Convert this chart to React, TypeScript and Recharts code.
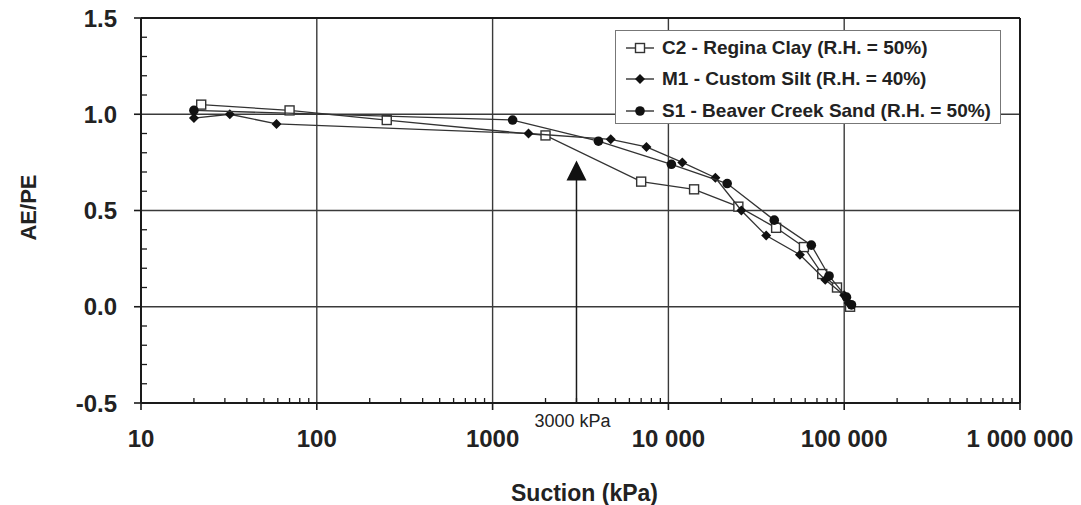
import React from 'react';
import {
  ComposedChart,
  Scatter,
  XAxis,
  YAxis,
  ReferenceLine,
  ReferenceDot,
  Legend,
  Label,
} from 'recharts';

// ---------- axis definitions ----------
const xMajorTicks = [10, 100, 1000, 10000, 100000, 1000000];
const xMajorLabels = ['10', '100', '1000', '10 000', '100 000', '1 000 000'];
const xMinorMultipliers = [2, 3, 4, 5, 6, 7, 8, 9];
const xGridLines = [100, 1000, 10000, 100000];

const yMajorTicks = [-0.5, 0, 0.5, 1.0, 1.5];
const yMajorLabels = ['-0.5', '0.0', '0.5', '1.0', '1.5'];
const yMinorTicks = [-0.4, -0.3, -0.2, -0.1, 0.1, 0.2, 0.3, 0.4, 0.6, 0.7, 0.8, 0.9, 1.1, 1.2, 1.3, 1.4];
const yGridLines = [0, 0.5, 1.0];

const xTitle = 'Suction (kPa)';
const yTitle = 'AE/PE';

// annotation arrow
const markerSuction = 3000;
const markerLabel = '3000 kPa';
const arrowTip = 0.76;
const arrowBase = 0.66;

// ---------- series data ----------
const c2Suction = [22, 70, 250, 2000, 7000, 14000, 25000, 41000, 59000, 75000, 91000, 108000];
const c2Ratio = [1.05, 1.02, 0.97, 0.89, 0.65, 0.61, 0.52, 0.41, 0.31, 0.17, 0.1, 0.0];

const m1Suction = [20, 32, 59, 1600, 4700, 7500, 12000, 18500, 26000, 36000, 56000, 78000, 100000, 106000];
const m1Ratio = [0.98, 1.0, 0.95, 0.9, 0.87, 0.83, 0.75, 0.67, 0.5, 0.37, 0.27, 0.14, 0.06, 0.02];

const s1Suction = [20, 1300, 4000, 10400, 21600, 40000, 65000, 82000, 103000, 110000];
const s1Ratio = [1.02, 0.97, 0.86, 0.74, 0.64, 0.45, 0.32, 0.16, 0.05, 0.01];

const seriesNames = [
  'C2 - Regina Clay (R.H. = 50%)',
  'M1 - Custom Silt (R.H. = 40%)',
  'S1 - Beaver Creek Sand (R.H. = 50%)',
];

// ---------- styles ----------
const FONT = '"Liberation Sans", Arial, Helvetica, sans-serif';
const AXIS = '#1a1a1a';
const GRID = '#3a3a3a';
const SERIES = '#333333';
const TEXT = '#222222';

const toPoints = (xs: number[], ys: number[]) => xs.map((x, i) => ({ x, y: ys[i] }));
const c2Data = toPoints(c2Suction, c2Ratio);
const m1Data = toPoints(m1Suction, m1Ratio);
const s1Data = toPoints(s1Suction, s1Ratio);

const xAllTicks: number[] = [];
xMajorTicks.forEach((d, i) => {
  xAllTicks.push(d);
  if (i < xMajorTicks.length - 1) xMinorMultipliers.forEach((m) => xAllTicks.push(d * m));
});
const yAllTicks = [...yMajorTicks, ...yMinorTicks].sort((a, b) => a - b);

// ---------- markers ----------
const SquareMark = ({ cx, cy }: { cx: number; cy: number }) => (
  <rect x={cx - 4.5} y={cy - 4.5} width={9} height={9} fill="#fff" stroke={SERIES} strokeWidth={1.4} />
);
const DiamondMark = ({ cx, cy }: { cx: number; cy: number }) => (
  <polygon points={`${cx},${cy - 5} ${cx + 5},${cy} ${cx},${cy + 5} ${cx - 5},${cy}`} fill="#111" />
);
const CircleMark = ({ cx, cy }: { cx: number; cy: number }) => (
  <circle cx={cx} cy={cy} r={4.8} fill="#111" />
);
const markers = [SquareMark, DiamondMark, CircleMark];

// ---------- ticks ----------
const XTick = (props: any) => {
  const { x, y, payload } = props;
  const v = payload.value;
  const idx = xMajorTicks.indexOf(v);
  if (idx >= 0) {
    return (
      <g>
        <line x1={x} x2={x} y1={y} y2={y + 7} stroke={AXIS} strokeWidth={1.6} />
        <text
          x={x}
          y={y + 35}
          textAnchor="middle"
          dominantBaseline="central"
          fontSize={24}
          fontWeight="bold"
          fontFamily={FONT}
          fill={TEXT}
        >
          {xMajorLabels[idx]}
        </text>
      </g>
    );
  }
  return (
    <g>
      <line x1={x} x2={x} y1={y} y2={y - 5} stroke={AXIS} strokeWidth={1.3} />
      {v === markerSuction && (
        <text
          x={x - 4}
          y={y + 18}
          textAnchor="middle"
          dominantBaseline="central"
          fontSize={18}
          fontFamily={FONT}
          fill={TEXT}
        >
          {markerLabel}
        </text>
      )}
    </g>
  );
};

const YTick = (props: any) => {
  const { x, y, payload } = props;
  const v = payload.value;
  const idx = yMajorTicks.findIndex((t) => Math.abs(t - v) < 1e-9);
  if (idx >= 0) {
    return (
      <g>
        <line x1={x - 7} x2={x} y1={y} y2={y} stroke={AXIS} strokeWidth={1.6} />
        <text
          x={x - 24}
          y={y}
          textAnchor="end"
          dominantBaseline="central"
          fontSize={24}
          fontWeight="bold"
          fontFamily={FONT}
          fill={TEXT}
        >
          {yMajorLabels[idx]}
        </text>
      </g>
    );
  }
  return <line x1={x} x2={x + 6} y1={y} y2={y} stroke={AXIS} strokeWidth={1.3} />;
};

// ---------- titles ----------
const XTitle = (props: any) => {
  const vb = props.viewBox || {};
  const cx = vb.x + vb.width / 2 + 4;
  return (
    <text
      x={cx}
      y={vb.y + 90}
      textAnchor="middle"
      dominantBaseline="central"
      fontSize={23}
      fontWeight="bold"
      fontFamily={FONT}
      fill={TEXT}
    >
      {xTitle}
    </text>
  );
};

const YTitle = (props: any) => {
  const vb = props.viewBox || {};
  const cx = vb.x + vb.width - 113;
  const cy = vb.y + vb.height / 2 - 3;
  return (
    <text
      x={cx}
      y={cy}
      transform={`rotate(-90 ${cx} ${cy})`}
      textAnchor="middle"
      dominantBaseline="central"
      fontSize={22}
      fontWeight="bold"
      fontFamily={FONT}
      fill={TEXT}
    >
      {yTitle}
    </text>
  );
};

// ---------- legend ----------
const LegendBox = () => (
  <div
    style={{
      border: '1.5px solid #777',
      background: '#fff',
      width: 386,
      height: 94,
      boxSizing: 'border-box',
      paddingTop: 1,
      fontFamily: FONT,
    }}
  >
    {seriesNames.map((name, i) => {
      const Mark = markers[i];
      return (
        <div key={name} style={{ display: 'flex', alignItems: 'center', height: 31.5 }}>
          <svg width={46} height={20} style={{ flex: 'none' }}>
            <line x1={10} x2={38} y1={10} y2={10} stroke={SERIES} strokeWidth={1.4} />
            <Mark cx={24} cy={10} />
          </svg>
          <span style={{ fontSize: 19, fontWeight: 'bold', color: TEXT, whiteSpace: 'nowrap' }}>{name}</span>
        </div>
      );
    })}
  </div>
);

export default function App() {
  return (
    <div style={{ position: 'absolute', left: 0, top: 0, background: '#fff' }}>
      <ComposedChart width={1081} height={505} margin={{ top: 18, right: 61, bottom: 62, left: 81 }}>
        <XAxis
          type="number"
          dataKey="x"
          scale="log"
          domain={[10, 1000000]}
          ticks={xAllTicks}
          interval={0}
          allowDataOverflow
          height={40}
          tickSize={0}
          tickMargin={0}
          tickLine={false}
          tick={XTick}
          axisLine={{ stroke: AXIS, strokeWidth: 2 }}
        >
          <Label content={XTitle} />
        </XAxis>
        <YAxis
          type="number"
          dataKey="y"
          domain={[-0.5, 1.5]}
          ticks={yAllTicks}
          interval={0}
          allowDataOverflow
          width={60}
          tickSize={0}
          tickMargin={0}
          tickLine={false}
          tick={YTick}
          axisLine={{ stroke: AXIS, strokeWidth: 2 }}
        >
          <Label content={YTitle} />
        </YAxis>

        {xGridLines.map((v) => (
          <ReferenceLine key={'gx' + v} x={v} stroke={GRID} strokeWidth={1.4} />
        ))}
        {yGridLines.map((v) => (
          <ReferenceLine key={'gy' + v} y={v} stroke={GRID} strokeWidth={1.4} />
        ))}
        <ReferenceLine x={1000000} stroke={AXIS} strokeWidth={2} />
        <ReferenceLine y={1.5} stroke={AXIS} strokeWidth={2} />

        <ReferenceLine
          segment={[
            { x: markerSuction, y: -0.5 },
            { x: markerSuction, y: arrowBase },
          ]}
          stroke={AXIS}
          strokeWidth={1.5}
        />
        <ReferenceDot
          x={markerSuction}
          y={arrowTip}
          shape={(p: any) => (
            <polygon
              points={`${p.cx},${p.cy} ${p.cx - 10},${p.cy + 20} ${p.cx + 10},${p.cy + 20}`}
              fill="#111"
            />
          )}
        />

        <Scatter
          name={seriesNames[0]}
          data={c2Data}
          line={{ stroke: SERIES, strokeWidth: 1.3 }}
          lineJointType="linear"
          shape={(p: any) => <SquareMark cx={p.cx} cy={p.cy} />}
          isAnimationActive={false}
        />
        <Scatter
          name={seriesNames[1]}
          data={m1Data}
          line={{ stroke: SERIES, strokeWidth: 1.3 }}
          lineJointType="linear"
          shape={(p: any) => <DiamondMark cx={p.cx} cy={p.cy} />}
          isAnimationActive={false}
        />
        <Scatter
          name={seriesNames[2]}
          data={s1Data}
          line={{ stroke: SERIES, strokeWidth: 1.3 }}
          lineJointType="linear"
          shape={(p: any) => <CircleMark cx={p.cx} cy={p.cy} />}
          isAnimationActive={false}
        />

        <Legend
          layout="vertical"
          align="center"
          verticalAlign="middle"
          content={() => <LegendBox />}
          wrapperStyle={{ position: 'absolute', left: 615, top: 30, width: 387, height: 94 }}
        />
      </ComposedChart>
    </div>
  );
}
